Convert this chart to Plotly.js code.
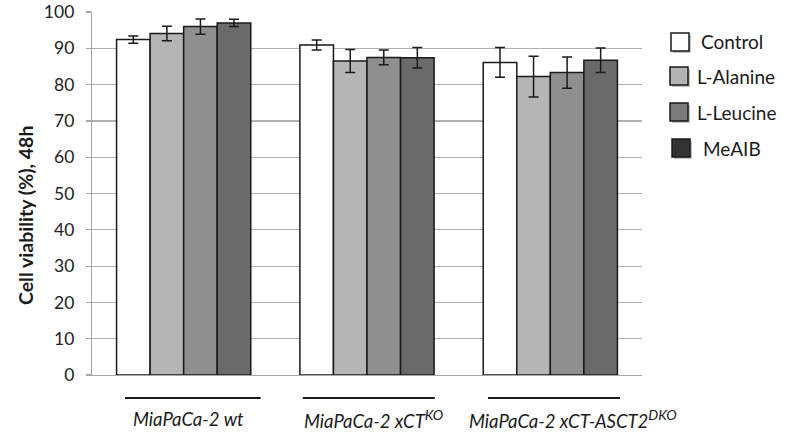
<!DOCTYPE html>
<html>
<head>
<meta charset="utf-8">
<script src="https://cdn.plot.ly/plotly-3.0.1.min.js"></script>
<style>html,body{margin:0;padding:0;background:#fff;}#chart{width:787px;height:437px;}</style>
</head>
<body>
<div id="chart"></div>
<script>
// ---- data ----
var categories = ["wt", "xCT KO", "xCT-ASCT2 DKO"];
var groupLabels = ["<i>MiaPaCa-2 wt</i>",
  "<i>MiaPaCa-2 xCT<sup><span style=\"font-size:14px\">KO</span></sup></i>",
  "<i>MiaPaCa-2 xCT-ASCT2<sup><span style=\"font-size:14px\">DKO</span></sup></i>"];
var seriesNames = ["Control", "L-Alanine", "L-Leucine", "MeAIB"];
var controlVals = [92.4, 90.9, 86.1];
var controlErr  = [1.0, 1.4, 4.1];
var alanineVals = [94.1, 86.5, 82.2];
var alanineErr  = [2.0, 3.2, 5.6];
var leucineVals = [96.0, 87.5, 83.3];
var leucineErr  = [2.1, 2.0, 4.3];
var meaibVals   = [97.0, 87.4, 86.7];
var meaibErr    = [1.0, 2.8, 3.4];
var yTicks = [0, 10, 20, 30, 40, 50, 60, 70, 80, 90, 100];

// ---- styles ----
var FONT = "Lato, 'Open Sans', sans-serif";
var barColors = ["#ffffff", "#b5b5b5", "#8f8f8f", "#6a6a6a"];
var legendColors = ["#ffffff", "#b3b3b3", "#7a7a7a", "#333333"];
var vals = [controlVals, alanineVals, leucineVals, meaibVals];
var errs = [controlErr, alanineErr, leucineErr, meaibErr];

var traces = seriesNames.map(function (name, i) {
  return {
    type: "bar", name: name, x: categories, y: vals[i],
    marker: {color: barColors[i], line: {color: "#1a1a1a", width: 1.5}},
    error_y: {type: "data", array: errs[i], visible: true, color: "#1a1a1a", thickness: 1.5, width: 5},
    showlegend: false
  };
});

var L = 92, R = 642, T = 12, B = 375;
function px(x) { return (x - L) / (R - L); }
function py(y) { return (B - y) / (B - T); }

var shapes = [];
var annotations = [];

// group underline bars
var lineOff = [[-0.32, 0.42], [-0.35, 0.37], [-0.34, 0.38]];
var labelShift = [5, 6, 23];
categories.forEach(function (c, i) {
  shapes.push({type: "line", xref: "x", yref: "paper", x0: i + lineOff[i][0], x1: i + lineOff[i][1],
    y0: py(398), y1: py(398), line: {color: "#1a1a1a", width: 2}});
  annotations.push({xref: "x", yref: "paper", x: c, y: py(419), xshift: labelShift[i], text: groupLabels[i],
    showarrow: false, font: {family: FONT, size: 18.5, color: "#1a1a1a"}, xanchor: "center", yanchor: "middle"});
});

// custom legend
var legY = [42, 76, 112, 148];
var legBoxX = [671, 670, 670, 672];
var legTextX = [699, 695, 695, 701];
seriesNames.forEach(function (n, i) {
  var x0 = legBoxX[i], x1 = x0 + 18, y0 = legY[i] - 9, y1 = legY[i] + 9;
  shapes.push({type: "rect", xref: "paper", yref: "paper", x0: px(x0 + 2), x1: px(x1 + 2), y0: py(y1 + 2), y1: py(y0 + 2),
    fillcolor: "rgba(120,120,120,0.45)", line: {width: 0}});
  shapes.push({type: "rect", xref: "paper", yref: "paper", x0: px(x0), x1: px(x1), y0: py(y1), y1: py(y0),
    fillcolor: legendColors[i], line: {color: "#1a1a1a", width: 1.5}});
  annotations.push({xref: "paper", yref: "paper", x: px(legTextX[i]), y: py(legY[i]), text: n, showarrow: false,
    xanchor: "left", yanchor: "middle", font: {family: FONT, size: 19, color: "#1a1a1a"}});
});

// y axis title
annotations.push({xref: "paper", yref: "paper", x: px(25), y: py(216), text: "<b>Cell viability (%), 48h</b>",
  textangle: -90, showarrow: false, xanchor: "center", yanchor: "middle",
  font: {family: FONT, size: 19.5, color: "#1a1a1a"}});

var layout = {
  width: 787, height: 437,
  margin: {l: L, r: 787 - R, t: T, b: 437 - B, pad: 0},
  paper_bgcolor: "#ffffff", plot_bgcolor: "#ffffff",
  barmode: "group", bargap: 0.268, bargroupgap: 0,
  xaxis: {type: "category", range: [-0.5, 2.5], autorange: false, showticklabels: false, ticks: "", showgrid: false, zeroline: false,
    showline: true, linecolor: "#a6a6a6", linewidth: 1.2, fixedrange: true},
  yaxis: {range: [0, 100], autorange: false, tickvals: yTicks, ticktext: yTicks.map(String),
    showgrid: true, gridcolor: "#b0b0b0", gridwidth: 1.2, zeroline: false,
    showline: true, linecolor: "#a6a6a6", linewidth: 1.2,
    ticks: "outside", ticklen: 5, tickcolor: "#a6a6a6", tickwidth: 1.2,
    tickfont: {family: FONT, size: 17.5, color: "#222222"}, ticklabelstandoff: 8},
  shapes: shapes, annotations: annotations, showlegend: false
};

Plotly.newPlot("chart", traces, layout, {staticPlot: true, displayModeBar: false});
</script>
</body>
</html>
